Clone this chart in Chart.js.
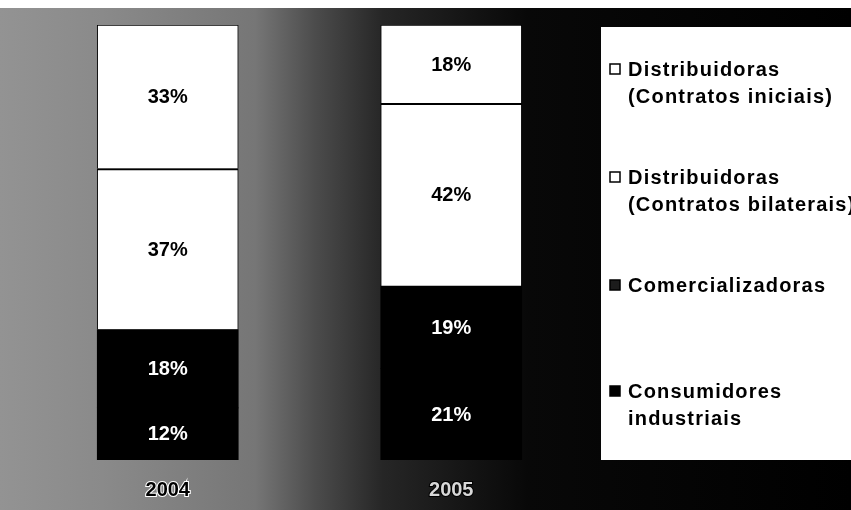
<!DOCTYPE html>
<html>
<head>
<meta charset="utf-8">
<script src="https://cdn.jsdelivr.net/npm/chart.js@4"></script>
<style>
    html, body { margin: 0; padding: 0; background: #000; }
    #wrap { width: 851px; height: 510px; }
</style>
</head>
<body>
<div id="wrap"><canvas id="chart"></canvas></div>
<script>
const years = ['2004', '2005'];
const consumidores = [12, 21];
const comercializadoras = [18, 19];
const bilaterais = [37, 42];
const iniciais = [33, 18];
const seriesNames = [
    ['Consumidores', 'industriais'],
    ['Comercializadoras'],
    ['Distribuidoras', '(Contratos bilaterais)'],
    ['Distribuidoras', '(Contratos iniciais)']
];

document.addEventListener('DOMContentLoaded', () => {
    load_chart();
});

// scanned grey background, lighter on the left, black towards the legend
const backdrop = {
    id: 'backdrop',
    beforeDraw(chart) {
        ctx = chart.ctx;
        w = chart.width;
        h = chart.height;
        ctx.save();
        grad = ctx.createLinearGradient(0, 0, w, 0);
        grad.addColorStop(0, '#939393');
        grad.addColorStop(0.12, '#8a8a8a');
        grad.addColorStop(0.3, '#767676');
        grad.addColorStop(0.37, '#4c4c4c');
        grad.addColorStop(0.45, '#262626');
        grad.addColorStop(0.62, '#080808');
        grad.addColorStop(1, '#000000');
        ctx.fillStyle = grad;
        ctx.fillRect(0, 0, w, h);
        ctx.fillStyle = '#ffffff';
        ctx.fillRect(0, 0, w, 8);
        ctx.restore();
    }
};

// percentages written in the middle of each segment
const segLabels = {
    id: 'segLabels',
    afterDatasetsDraw(chart) {
        ctx = chart.ctx;
        ctx.save();
        ctx.font = 'bold 20px "Liberation Sans", Arial, sans-serif';
        ctx.textAlign = 'center';
        ctx.textBaseline = 'middle';
        chart.data.datasets.forEach((ds, i) => {
            meta = chart.getDatasetMeta(i);
            meta.data.forEach((bar, j) => {
                p = bar.getCenterPoint();
                ctx.fillStyle = ds.labelColor;
                ctx.fillText(ds.data[j] + '%', p.x, p.y + 1);
            });
        });
        ctx.restore();
    }
};

// white legend box on the right, items listed top of stack first
const sideLegend = {
    id: 'sideLegend',
    afterDraw(chart) {
        ctx = chart.ctx;
        area = chart.chartArea;
        x0 = area.right + 8;
        ctx.save();
        ctx.fillStyle = '#ffffff';
        ctx.fillRect(x0, 27, chart.width - x0, 433);
        ctx.font = 'bold 20px "Liberation Sans", Arial, sans-serif';
        ctx.letterSpacing = '1.2px';
        ctx.textBaseline = 'middle';
        ctx.textAlign = 'left';
        items = chart.data.datasets.slice().reverse();
        rowY = [69, 177, 285, 391];
        items.forEach((ds, k) => {
            y = rowY[k];
            ctx.fillStyle = ds.markerColor;
            ctx.fillRect(x0 + 9, y - 5, 10, 10);
            ctx.strokeStyle = '#000';
            ctx.lineWidth = 1.5;
            ctx.strokeRect(x0 + 9, y - 5, 10, 10);
            ctx.fillStyle = '#000';
            ds.label.forEach((line, n) => {
                ctx.fillText(line, x0 + 27, y + 1 + n * 27);
            });
        });
        ctx.restore();
    }
};

function load_chart() {
    canvas = document.querySelector('#chart');
    data = {
        labels: years,
        datasets: [{
            label: seriesNames[0],
            data: consumidores,
            backgroundColor: '#000000',
            borderWidth: 0,
            labelColor: '#ffffff',
            markerColor: '#000000'
        }, {
            label: seriesNames[1],
            data: comercializadoras,
            backgroundColor: '#000000',
            borderWidth: 0,
            labelColor: '#ffffff',
            markerColor: '#1c1c1c'
        }, {
            label: seriesNames[2],
            data: bilaterais,
            backgroundColor: '#ffffff',
            borderColor: '#000000',
            borderWidth: { top: 2, left: 1, right: 1, bottom: 0 },
            labelColor: '#000000',
            markerColor: '#ffffff'
        }, {
            label: seriesNames[3],
            data: iniciais,
            backgroundColor: '#ffffff',
            borderColor: '#000000',
            borderWidth: { top: 1, left: 1, right: 1, bottom: 0 },
            labelColor: '#000000',
            markerColor: '#ffffff'
        }]
    };
    config = {
        type: 'bar',
        data: data,
        plugins: [backdrop, segLabels, sideLegend],
        options: {
            responsive: true,
            maintainAspectRatio: false,
            animation: false,
            barThickness: 141,
            layout: {
                padding: { left: 26, right: 258, top: 25, bottom: 10 }
            },
            plugins: {
                legend: { display: false },
                tooltip: { enabled: false }
            },
            scales: {
                x: {
                    stacked: true,
                    afterFit: (scale) => { scale.height = 40; },
                    grid: { display: false, drawTicks: false },
                    border: { display: false },
                    ticks: {
                        padding: 18,
                        font: { family: '"Liberation Sans", Arial, sans-serif', size: 20, weight: 'bold' },
                        color: (c) => c.index === 0 ? '#000000' : '#d8d8d8',
                        textStrokeColor: (c) => c.index === 0 ? '#ffffff' : '#000000',
                        textStrokeWidth: 2
                    }
                },
                y: {
                    stacked: true,
                    display: false,
                    min: 0,
                    max: 100
                }
            }
        }
    };
    new Chart(canvas, config);
}
</script>
</body>
</html>
